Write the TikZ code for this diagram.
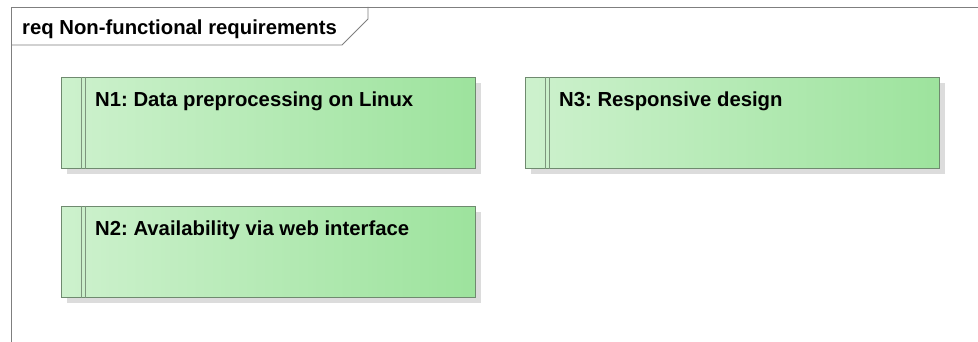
\documentclass[tikz,border=0pt]{standalone}
\usepackage{fontspec}
\setmainfont{Liberation Sans}
\usetikzlibrary{positioning}
\definecolor{reqlight}{HTML}{CDF1CD}
\definecolor{reqdark}{HTML}{9DE39D}
\definecolor{reqedge}{HTML}{6F8A6F}
\definecolor{reqbar}{HTML}{7C957C}
\definecolor{reqshadow}{HTML}{DCDCDC}
\definecolor{framegray}{HTML}{7F7F7F}
\tikzset{
  reqbox/.style={draw=reqedge, line width=0.9pt, left color=reqlight, right color=reqdark,
    minimum width=414pt, minimum height=91pt, inner sep=0pt, anchor=north west},
  reqshade/.style={fill=reqshadow, draw=none},
  reqlabel/.style={font=\bfseries\fontsize{20.3}{23}\selectfont, anchor=base west, inner sep=0pt},
  framestyle/.style={draw=framegray, line width=0.8pt}
}
\frenchspacing
\newcommand{\reqnode}[4]{%
  % #1 name, #2 x, #3 y, #4 text
  \fill[reqshade] (#2+6,#3+6) rectangle (#2+420,#3+97);
  \node[reqbox] (#1) at (#2,#3) {};
  \draw[reqbar, line width=0.9pt] ([xshift=20.5pt]#1.north west) -- ([xshift=20.5pt]#1.south west);
  \draw[reqbar, line width=0.9pt] ([xshift=24.5pt]#1.north west) -- ([xshift=24.5pt]#1.south west);
  \node[reqlabel] (#1-text) at ([xshift=34pt,yshift=-30pt]#1.north west) {#4};
}
\begin{document}
\begin{tikzpicture}[x=1pt,y=-1pt]
  \useasboundingbox[fill=white] (0,0) rectangle (978,342);
  % diagram frame with its name tab
  \coordinate (frameTL) at (11,7);
  \coordinate (frameTR) at (978,7);
  \coordinate (frameBL) at (11,342);
  \draw[framestyle] (frameTR) -- (frameTL) -- (frameBL);
  \coordinate (tabA) at (11,45);
  \coordinate (tabB) at (342,45);
  \coordinate (tabC) at (368,19);
  \coordinate (tabD) at (368,7);
  \draw[framestyle] (tabA) -- (tabB) -- (tabC) -- (tabD);
  \node[font=\bfseries\fontsize{20.3}{23}\selectfont, anchor=base west, inner sep=0pt] (title) at (22,35) {req Non-functional requirements};
  % requirements
  \reqnode{N1}{61}{77}{N1: Data preprocessing on Linux}
  \reqnode{N2}{61}{206}{N2: Availability via web interface}
  \reqnode{N3}{525}{77}{N3: Responsive design}
\end{tikzpicture}
\end{document}
